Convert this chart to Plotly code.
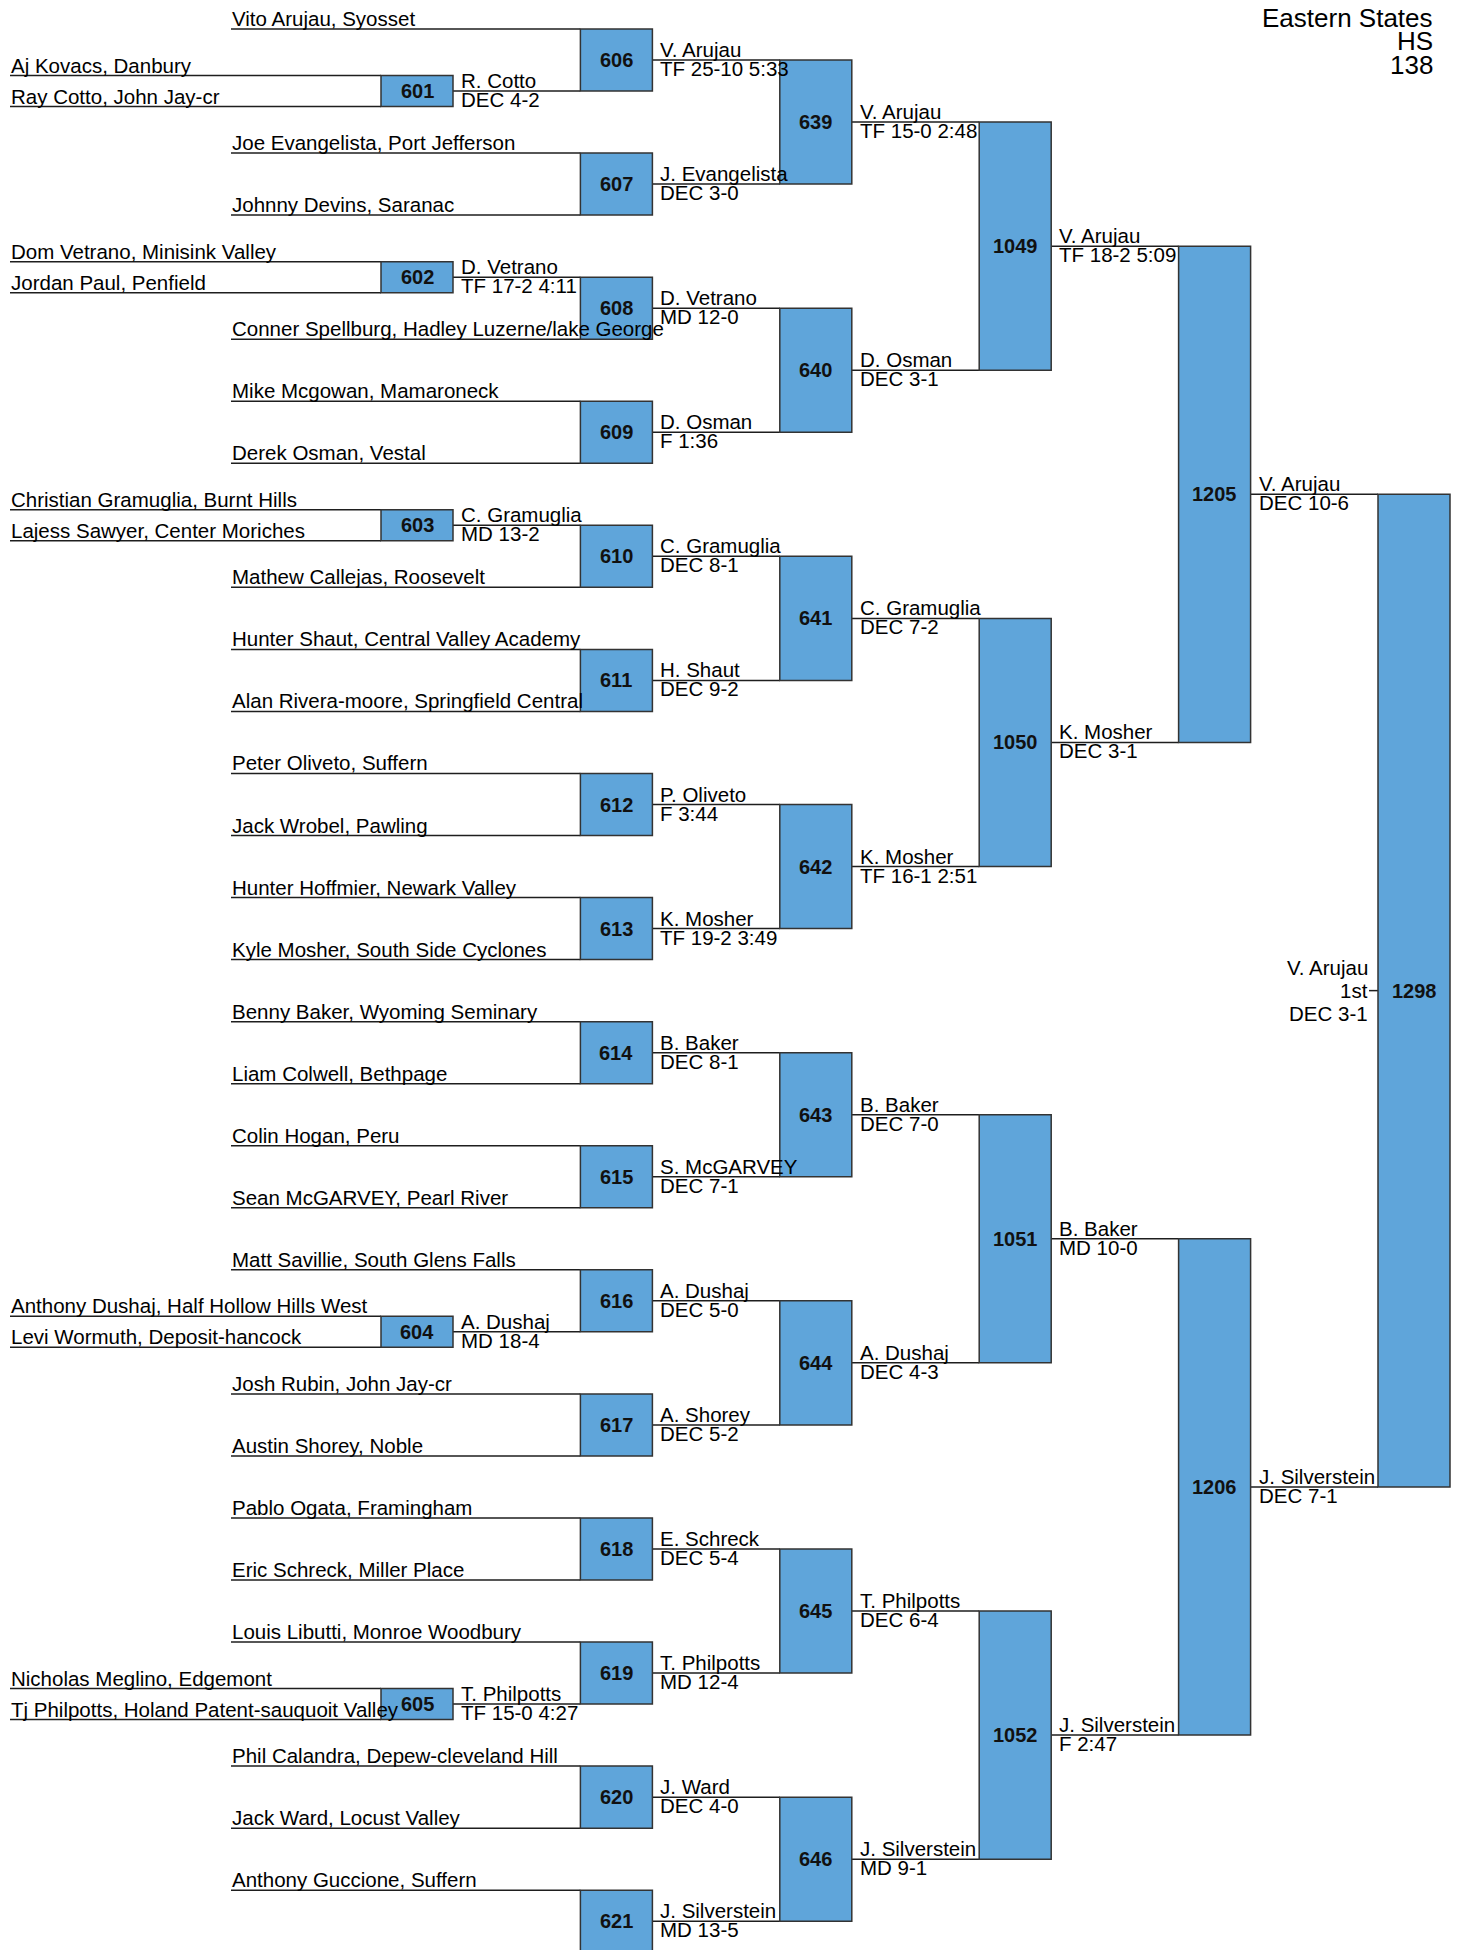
import plotly.graph_objects as go

# ---------------- data ----------------
title_lines = ["Eastern States", "HS", "138"]

prelim_ids = [601, 602, 603, 604, 605]
prelim_feeds = [606, 608, 610, 616, 619]          # round-1 bout the prelim winner moves into
prelim_top = ["Aj Kovacs, Danbury", "Dom Vetrano, Minisink Valley",
              "Christian Gramuglia, Burnt Hills", "Anthony Dushaj, Half Hollow Hills West",
              "Nicholas Meglino, Edgemont"]
prelim_bottom = ["Ray Cotto, John Jay-cr", "Jordan Paul, Penfield",
                 "Lajess Sawyer, Center Moriches", "Levi Wormuth, Deposit-hancock",
                 "Tj Philpotts, Holand Patent-sauquoit Valley"]
prelim_winner = ["R. Cotto", "D. Vetrano", "C. Gramuglia", "A. Dushaj", "T. Philpotts"]
prelim_score = ["DEC 4-2", "TF 17-2 4:11", "MD 13-2", "MD 18-4", "TF 15-0 4:27"]

r1_ids = [606, 607, 608, 609, 610, 611, 612, 613, 614, 615, 616, 617, 618, 619, 620, 621]
r1_top = ["Vito Arujau, Syosset", "Joe Evangelista, Port Jefferson", None,
          "Mike Mcgowan, Mamaroneck", None, "Hunter Shaut, Central Valley Academy",
          "Peter Oliveto, Suffern", "Hunter Hoffmier, Newark Valley",
          "Benny Baker, Wyoming Seminary", "Colin Hogan, Peru",
          "Matt Savillie, South Glens Falls", "Josh Rubin, John Jay-cr",
          "Pablo Ogata, Framingham", "Louis Libutti, Monroe Woodbury",
          "Phil Calandra, Depew-cleveland Hill", "Anthony Guccione, Suffern"]
r1_bottom = [None, "Johnny Devins, Saranac", "Conner Spellburg, Hadley Luzerne/lake George",
             "Derek Osman, Vestal", "Mathew Callejas, Roosevelt",
             "Alan Rivera-moore, Springfield Central", "Jack Wrobel, Pawling",
             "Kyle Mosher, South Side Cyclones", "Liam Colwell, Bethpage",
             "Sean McGARVEY, Pearl River", None, "Austin Shorey, Noble",
             "Eric Schreck, Miller Place", None, "Jack Ward, Locust Valley",
             "Jake Silverstein, Hauppauge"]
r1_winner = ["V. Arujau", "J. Evangelista", "D. Vetrano", "D. Osman", "C. Gramuglia",
             "H. Shaut", "P. Oliveto", "K. Mosher", "B. Baker", "S. McGARVEY",
             "A. Dushaj", "A. Shorey", "E. Schreck", "T. Philpotts", "J. Ward",
             "J. Silverstein"]
r1_score = ["TF 25-10 5:33", "DEC 3-0", "MD 12-0", "F 1:36", "DEC 8-1", "DEC 9-2",
            "F 3:44", "TF 19-2 3:49", "DEC 8-1", "DEC 7-1", "DEC 5-0", "DEC 5-2",
            "DEC 5-4", "MD 12-4", "DEC 4-0", "MD 13-5"]

r2_ids = [639, 640, 641, 642, 643, 644, 645, 646]
r2_winner = ["V. Arujau", "D. Osman", "C. Gramuglia", "K. Mosher", "B. Baker",
             "A. Dushaj", "T. Philpotts", "J. Silverstein"]
r2_score = ["TF 15-0 2:48", "DEC 3-1", "DEC 7-2", "TF 16-1 2:51", "DEC 7-0",
            "DEC 4-3", "DEC 6-4", "MD 9-1"]

r3_ids = [1049, 1050, 1051, 1052]
r3_winner = ["V. Arujau", "K. Mosher", "B. Baker", "J. Silverstein"]
r3_score = ["TF 18-2 5:09", "DEC 3-1", "MD 10-0", "F 2:47"]

r4_ids = [1205, 1206]
r4_winner = ["V. Arujau", "J. Silverstein"]
r4_score = ["DEC 10-6", "DEC 7-1"]

final_ids = [1298]
final_winner = ["V. Arujau"]
final_place = ["1st"]
final_score = ["DEC 3-1"]

# ---------------- layout constants (page pixels) ----------------
PAGE_W, PAGE_H = 1461, 1950
OFF = 8                             # default body margin of the html page
W, H = PAGE_W - OFF, PAGE_H - OFF
COL_PX, COL0_PX = 199.4, 381.0      # round spacing / left edge of prelim boxes
ROW_PX, ROW0_PX = 62.04, 29.0       # round-1 line spacing / first line
BOX_W = 72.0 / COL_PX
FONT = "Liberation Sans, Arial, Helvetica, sans-serif"
BOX_FILL = "#5fa5da"
LINE_COL = "#1e1e1e"
TXT = 20.5


def xu(px):
    return (px - COL0_PX) / COL_PX


def yu(px):
    return (px - ROW0_PX) / ROW_PX


NAME_X_R1 = xu(231)
NAME_X_PRE = xu(10)

shapes, lines, annots = [], [], []


def hline(x0, x1, y):
    lines.append(dict(type="line", xref="x", yref="y", x0=x0, x1=x1, y0=y, y1=y,
                      line=dict(color=LINE_COL, width=1.5), layer="above"))


def box(r, y0, y1, label):
    shapes.append(dict(type="rect", xref="x", yref="y", x0=r, x1=r + BOX_W, y0=y0, y1=y1,
                       fillcolor=BOX_FILL, line=dict(color="#333333", width=1.5),
                       layer="above"))
    annots.append(dict(x=r + BOX_W / 2, y=(y0 + y1) / 2, xref="x", yref="y",
                       text="<b>%s</b>" % label, showarrow=False, xanchor="center",
                       yanchor="middle", font=dict(family=FONT, size=20, color="#111111")))


def name_text(x, y, text):
    annots.append(dict(x=x, y=y, xref="x", yref="y", text=text, showarrow=False,
                       xanchor="left", yanchor="bottom", yshift=-2, borderpad=0,
                       font=dict(family=FONT, size=TXT, color="#000000")))


def result(r, y, winner, score):
    x = r + BOX_W
    annots.append(dict(x=x, y=y, xref="x", yref="y", text=winner, showarrow=False,
                       xanchor="left", yanchor="bottom", xshift=7, yshift=-2, borderpad=0,
                       font=dict(family=FONT, size=TXT, color="#000000")))
    annots.append(dict(x=x, y=y, xref="x", yref="y", text=score, showarrow=False,
                       xanchor="left", yanchor="top", xshift=7, yshift=4, borderpad=0,
                       font=dict(family=FONT, size=TXT, color="#000000")))


# ---------------- round 1 & prelims ----------------
r1_center = []
for m, mid in enumerate(r1_ids):
    y_top, y_bot = 2 * m, 2 * m + 1
    for yy, nm in [(y_top, r1_top[m]), (y_bot, r1_bottom[m])]:
        if nm is not None:
            hline(NAME_X_R1, 1, yy)
            name_text(NAME_X_R1, yy, nm)
        else:
            p = prelim_feeds.index(mid)
            pa, pb = yy - 0.25, yy + 0.25
            hline(NAME_X_PRE, 0, pa)
            hline(NAME_X_PRE, 0, pb)
            name_text(NAME_X_PRE, pa, prelim_top[p])
            name_text(NAME_X_PRE, pb, prelim_bottom[p])
            hline(BOX_W, 1, yy)
            box(0, pa, pb, prelim_ids[p])
            result(0, yy, prelim_winner[p], prelim_score[p])
    c = (y_top + y_bot) / 2
    r1_center.append(c)
    hline(1 + BOX_W, 2, c)
    box(1, y_top, y_bot, mid)
    result(1, c, r1_winner[m], r1_score[m])

# ---------------- later rounds ----------------
prev = r1_center
for r, (ids, wins, scs) in enumerate([(r2_ids, r2_winner, r2_score),
                                      (r3_ids, r3_winner, r3_score),
                                      (r4_ids, r4_winner, r4_score)], start=2):
    cur = []
    for j, mid in enumerate(ids):
        a, b = prev[2 * j], prev[2 * j + 1]
        c = (a + b) / 2
        cur.append(c)
        hline(r + BOX_W, r + 1, c)
        box(r, a, b, mid)
        result(r, c, wins[j], scs[j])
    prev = cur

# final
fa, fb = prev[0], prev[1]
fc = (fa + fb) / 2
tick = 9 / COL_PX
hline(5 - tick, 5, fc)
box(5, fa, fb, final_ids[0])
for txt, dy in [(final_winner[0], -23), (final_place[0], 0), (final_score[0], 23)]:
    annots.append(dict(x=5 - tick, y=fc, xref="x", yref="y", text=txt, showarrow=False,
                       xanchor="right", yanchor="middle", yshift=-dy, borderpad=0,
                       font=dict(family=FONT, size=TXT, color="#000000")))

# title (right-aligned block, top right)
for txt, base in zip(title_lines, [28, 51, 75]):
    annots.append(dict(x=xu(1434), y=yu(base + 0.212 * 26), xref="x", yref="y",
                       text=txt, showarrow=False, xanchor="right", yanchor="bottom",
                       borderpad=0, font=dict(family=FONT, size=26, color="#000000")))

fig = go.Figure()
fig.update_layout(
    width=W, height=H, margin=dict(l=0, r=0, t=0, b=0),
    paper_bgcolor="white", plot_bgcolor="white", showlegend=False,
    xaxis=dict(range=[xu(OFF), xu(PAGE_W)], visible=False, fixedrange=True),
    yaxis=dict(range=[yu(PAGE_H), yu(OFF)], visible=False, fixedrange=True),
    shapes=lines + shapes, annotations=annots,
)
fig.write_html("out.html")
